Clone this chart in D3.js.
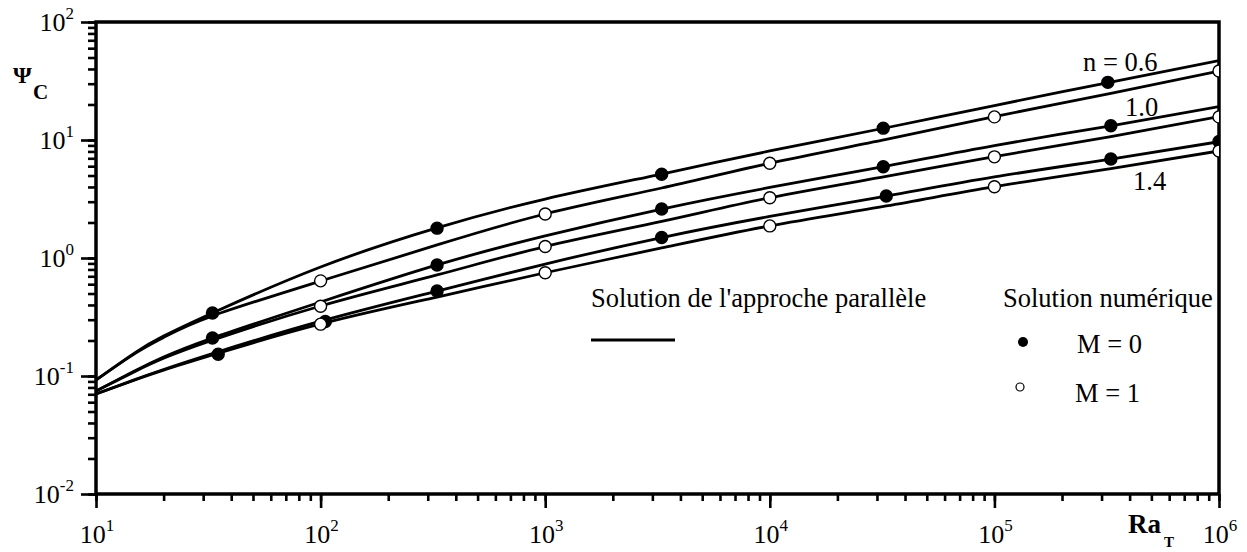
<!DOCTYPE html>
<html>
<head>
<meta charset="utf-8">
<script src="https://cdn.jsdelivr.net/npm/d3@7"></script>
<style>
  body { margin: 0; background: #fff; }
  text { font-family: "Liberation Serif", "Times New Roman", serif; fill: #000; }
</style>
</head>
<body>
<div id="chart"></div>
<script>
// Ra values where the parallel-flow curves are sampled
var raLine = [10, 15, 20, 33, 100, 330, 1e3, 3.3e3, 1e4, 3.3e4, 1e5, 3.3e5, 1e6];

// parallel flow solution, n = 0.6 / 1.0 / 1.4, M = 0 and M = 1
var psi06M0 = [0.0925, 0.1588, 0.218, 0.342, 0.839, 1.80, 3.16, 5.15, 8.07, 12.7, 19.6, 31.0, 47.0];
var psi06M1 = [0.0925, 0.1563, 0.2124, 0.323, 0.638, 1.29, 2.36, 3.92, 6.35, 10.1, 15.8, 24.8, 38.4];
var psi10M0 = [0.0746, 0.1116, 0.1449, 0.210, 0.424, 0.873, 1.54, 2.60, 3.96, 6.02, 8.98, 13.2, 19.2];
var psi10M1 = [0.0746, 0.1099, 0.1413, 0.201, 0.392, 0.718, 1.25, 2.04, 3.24, 4.91, 7.22, 10.7, 15.8];
var psi14M0 = [0.0704, 0.0937, 0.1135, 0.1549, 0.2913, 0.525, 0.889, 1.49, 2.25, 3.35, 4.86, 6.90, 9.67];
var psi14M1 = [0.0704, 0.0930, 0.1120, 0.1507, 0.276, 0.467, 0.75, 1.216, 1.87, 2.76, 4.02, 5.73, 8.07];

// numerical solution, M = 0 (filled)
var raDot06 = [33, 330, 3300, 32000, 320000];
var psiDot06 = [0.342, 1.79, 5.12, 12.6, 30.8];
var raDot10 = [33, 330, 3300, 32000, 330000];
var psiDot10 = [0.21, 0.873, 2.6, 5.94, 13.2];
var raDot14 = [35, 105, 330, 3300, 33000, 330000, 1e6];
var psiDot14 = [0.153, 0.29, 0.525, 1.49, 3.35, 6.9, 9.7];

// numerical solution, M = 1 (open)
var raOpen = [100, 1e3, 1e4, 1e5, 1e6];
var psiOpen06 = [0.64, 2.36, 6.35, 15.7, 38.4];
var psiOpen10 = [0.39, 1.25, 3.24, 7.2, 15.7];
var psiOpen14 = [0.275, 0.75, 1.87, 4.02, 8.07];

// tick labels
var xDecades = [1e1, 1e2, 1e3, 1e4, 1e5, 1e6];
var xExp = ["1", "2", "3", "4", "5", "6"];
var yDecades = [1e-2, 1e-1, 1e0, 1e1, 1e2];
var yExp = ["-2", "-1", "0", "1", "2"];

var width = 1247, height = 552;
var plotL = 96, plotR = 1219, plotT = 22, plotB = 494;

var svg = d3.select("#chart").append("svg")
    .attr("width", width)
    .attr("height", height);

var x = d3.scaleLog().domain([10, 1e6]).range([plotL, plotR]);
var y = d3.scaleLog().domain([0.01, 100]).range([plotB, plotT]);

svg.append("defs").append("clipPath")
    .attr("id", "plot")
    .append("rect")
    .attr("x", plotL).attr("y", plotT)
    .attr("width", plotR - plotL).attr("height", plotB - plotT);

// minor ticks
var yMinor = svg.append("g")
    .attr("transform", "translate(" + plotL + ",0)")
    .call(d3.axisLeft(y).tickValues(y.ticks()).tickSize(8).tickFormat(""));
var xMinor = svg.append("g")
    .attr("transform", "translate(0," + plotB + ")")
    .call(d3.axisBottom(x).tickValues(x.ticks()).tickSize(7).tickFormat(""));
// major ticks
var yMajor = svg.append("g")
    .attr("transform", "translate(" + plotL + ",0)")
    .call(d3.axisLeft(y).tickValues(yDecades).tickSize(15).tickFormat(""));
var xMajor = svg.append("g")
    .attr("transform", "translate(0," + plotB + ")")
    .call(d3.axisBottom(x).tickValues(xDecades).tickSize(14).tickFormat(""));

[yMinor, xMinor, yMajor, xMajor].forEach(function (g) {
    g.select(".domain").remove();
    g.selectAll(".tick line").attr("stroke", "#000").attr("stroke-width", 2.6);
});

// frame
svg.append("rect")
    .attr("x", plotL).attr("y", plotT)
    .attr("width", plotR - plotL).attr("height", plotB - plotT)
    .attr("fill", "none")
    .attr("stroke", "#000")
    .attr("stroke-width", 3.5);

// tick labels
yDecades.forEach(function (d, i) {
    var t = svg.append("text")
        .attr("x", 74)
        .attr("y", y(d) + 9)
        .attr("text-anchor", "end")
        .style("font-size", "26px");
    t.append("tspan").text("10");
    t.append("tspan").attr("dy", -12).style("font-size", "17px").text(yExp[i]);
});
xDecades.forEach(function (d, i) {
    var t = svg.append("text")
        .attr("x", x(d) + 1)
        .attr("y", 543)
        .attr("text-anchor", "middle")
        .style("font-size", "26px");
    t.append("tspan").text("10");
    t.append("tspan").attr("dy", -12).style("font-size", "17px").text(xExp[i]);
});

// axis titles
svg.append("text").attr("x", 13).attr("y", 83)
    .style("font-size", "24px").style("font-weight", "bold").text("Ψ");
svg.append("text").attr("x", 33).attr("y", 99)
    .style("font-size", "21px").style("font-weight", "bold").text("C");
svg.append("text").attr("x", 1128).attr("y", 533)
    .style("font-size", "27px").style("font-weight", "bold").text("Ra");
svg.append("text").attr("x", 1164).attr("y", 547)
    .style("font-size", "15px").style("font-weight", "bold").text("T");

// curves
var line = d3.line()
    .x(function (d) { return x(d[0]); })
    .y(function (d) { return y(d[1]); })
    .curve(d3.curveNatural);

var plot = svg.append("g").attr("clip-path", "url(#plot)");

[psi06M0, psi06M1, psi10M0, psi10M1, psi14M0, psi14M1].forEach(function (s) {
    plot.append("path")
        .datum(d3.zip(raLine, s))
        .attr("d", line)
        .attr("fill", "none")
        .attr("stroke", "#000")
        .attr("stroke-width", 2.8);
});

// markers
function dots(ra, psi, filled) {
    plot.selectAll(null)
        .data(d3.zip(ra, psi))
        .enter().append("circle")
        .attr("cx", function (d) { return x(d[0]); })
        .attr("cy", function (d) { return y(d[1]); })
        .attr("r", 6)
        .attr("fill", filled ? "#000" : "#fff")
        .attr("stroke", "#000")
        .attr("stroke-width", 1.4);
}
dots(raDot06, psiDot06, true);
dots(raDot10, psiDot10, true);
dots(raDot14, psiDot14, true);
dots(raOpen, psiOpen06, false);
dots(raOpen, psiOpen10, false);
dots(raOpen, psiOpen14, false);

// curve labels
svg.append("text").attr("x", 1083).attr("y", 71).style("font-size", "26.5px").text("n = 0.6");
svg.append("text").attr("x", 1125).attr("y", 116).style("font-size", "26.5px").text("1.0");
svg.append("text").attr("x", 1133).attr("y", 190).style("font-size", "26.5px").text("1.4");

// legend
svg.append("text").attr("x", 591).attr("y", 307).style("font-size", "26.5px")
    .text("Solution de l'approche parallèle");
svg.append("line")
    .attr("x1", 591).attr("x2", 675).attr("y1", 340).attr("y2", 340)
    .attr("stroke", "#000").attr("stroke-width", 3);

svg.append("text").attr("x", 1003).attr("y", 307).style("font-size", "26.5px")
    .text("Solution numérique");
svg.append("circle").attr("cx", 1023).attr("cy", 342).attr("r", 5)
    .attr("fill", "#000");
svg.append("text").attr("x", 1077).attr("y", 353).style("font-size", "26.5px").text("M = 0");
svg.append("circle").attr("cx", 1020).attr("cy", 387).attr("r", 4)
    .attr("fill", "#fff").attr("stroke", "#000").attr("stroke-width", 1.2);
svg.append("text").attr("x", 1075).attr("y", 402).style("font-size", "26.5px").text("M = 1");
</script>
</body>
</html>
